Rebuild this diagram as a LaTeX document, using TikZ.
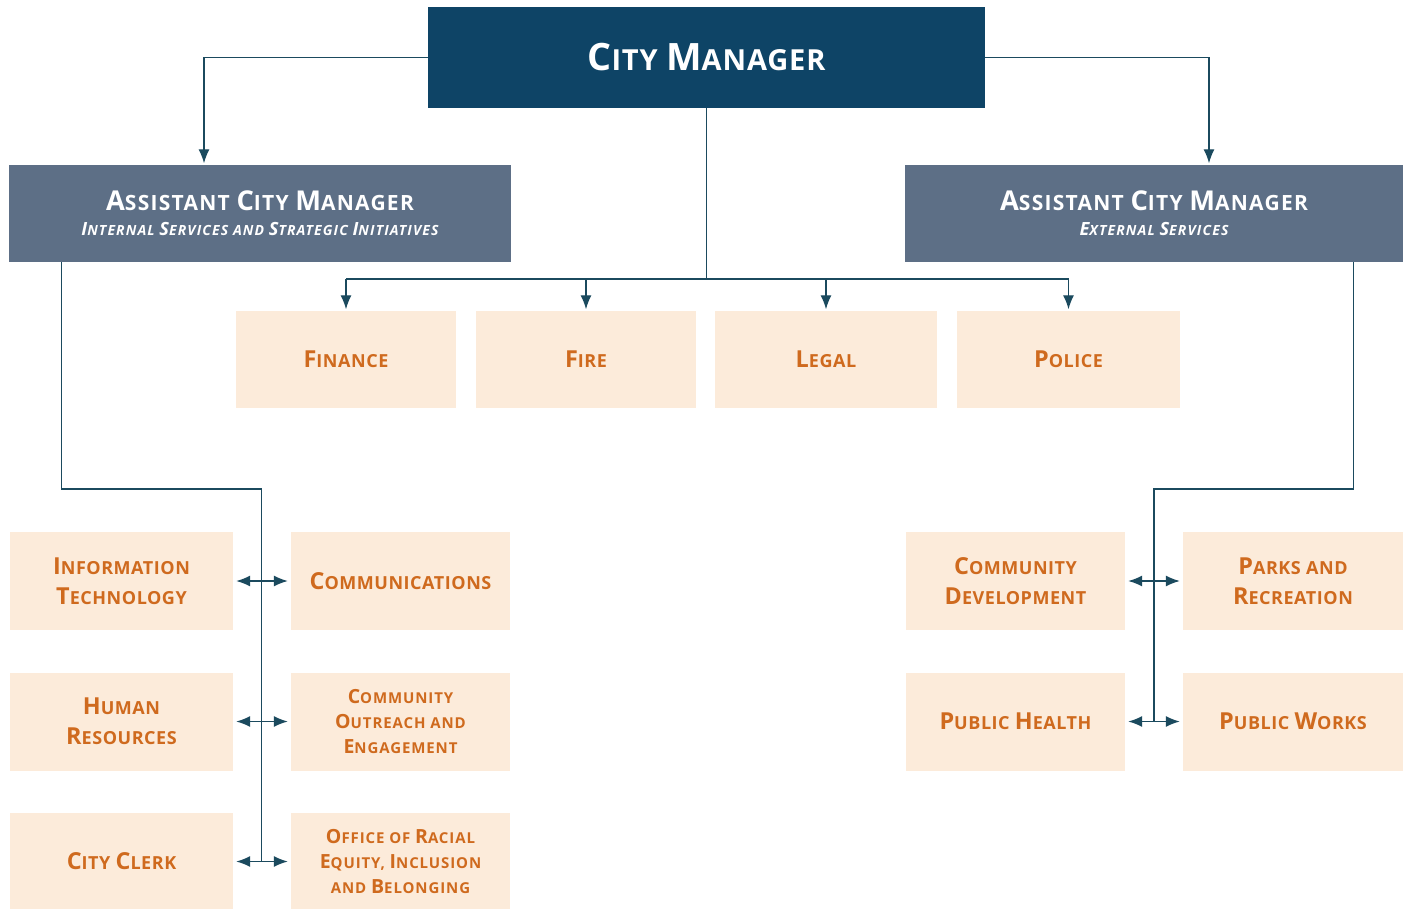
\documentclass[tikz,border=0pt]{standalone}
\usepackage{fontspec}
\setmainfont{Open Sans}
\usetikzlibrary{arrows.meta}
\definecolor{navy}{HTML}{0E4466}
\definecolor{slate}{HTML}{5D6F86}
\definecolor{peach}{HTML}{FCEBDA}
\definecolor{ortext}{HTML}{CF6A1E}
\definecolor{lnk}{HTML}{1B4A5E}
\newcommand\K[1]{\scalebox{1.3}{#1}}
\tikzset{
  cmbox/.style={fill=navy, text=white, minimum width=557pt, minimum height=101pt, inner sep=0pt,
    font=\fontsize{29}{33}\bfseries\addfontfeatures{LetterSpace=3}},
  acmbox/.style={fill=slate, text=white, minimum width=502pt, minimum height=97pt, inner sep=0pt,
    align=center, font=\fontsize{21}{23}\bfseries\addfontfeatures{LetterSpace=6}},
  dept/.style={fill=peach, text=ortext, minimum width=221pt, minimum height=98pt, inner sep=0pt,
    align=center, font=\fontsize{18}{30}\bfseries\addfontfeatures{LetterSpace=3}},
  dept3/.style={dept, font=\fontsize{15}{25}\bfseries\addfontfeatures{LetterSpace=6}},
  link/.style={draw=lnk, line width=1.3pt},
  arr/.style={link, -{Latex[length=14pt,width=11pt]}, shorten >=1.5pt},
  arrr/.style={link, {Latex[length=14pt,width=11pt]}-{Latex[length=14pt,width=11pt]}, shorten >=3pt, shorten <=3pt},
}
\begin{document}
\begin{tikzpicture}[x=1pt,y=-1pt]
\useasboundingbox (0,0) rectangle (1412,909);
\node[cmbox] (cm) at (706.5,57.5) {\K{C}ITY \K{M}ANAGER};
\node[acmbox] (acml) at (260,213.5) {\K{A}SSISTANT \K{C}ITY \K{M}ANAGER\\[2pt]
  {\fontsize{14}{16}\selectfont\itshape\addfontfeatures{LetterSpace=8}\K{I}NTERNAL \K{S}ERVICES AND \K{S}TRATEGIC \K{I}NITIATIVES}};
\node[acmbox, minimum width=498pt] (acmr) at (1154,213.5) {\K{A}SSISTANT \K{C}ITY \K{M}ANAGER\\[2pt]
  {\fontsize{14}{16}\selectfont\itshape\addfontfeatures{LetterSpace=8}\K{E}XTERNAL \K{S}ERVICES}};
% central departments
\node[dept, minimum width=220pt, minimum height=97pt] (fin) at (346,359.5) {\K{F}INANCE};
\node[dept, minimum width=220pt, minimum height=97pt] (fire) at (586,359.5) {\K{F}IRE};
\node[dept, minimum width=222pt, minimum height=97pt] (leg) at (826,359.5) {\K{L}EGAL};
\node[dept, minimum width=223pt, minimum height=97pt] (pol) at (1068.5,359.5) {\K{P}OLICE};
% left column
\node[dept, minimum width=223pt] (it) at (121.5,581) {\K{I}NFORMATION\\\K{T}ECHNOLOGY};
\node[dept, minimum width=219pt] (com) at (400.5,581) {\K{C}OMMUNICATIONS};
\node[dept, minimum width=223pt] (hr) at (121.5,721.5) {\K{H}UMAN\\\K{R}ESOURCES};
\node[dept3, minimum width=219pt] (coe) at (400.5,721.5) {\K{C}OMMUNITY\\\K{O}UTREACH AND\\\K{E}NGAGEMENT};
\node[dept, minimum width=223pt] (cc) at (121.5,861.5) {\K{C}ITY \K{C}LERK};
\node[dept3, minimum width=219pt] (ore) at (400.5,861.5) {\K{O}FFICE OF \K{R}ACIAL\\\K{E}QUITY, \K{I}NCLUSION\\AND \K{B}ELONGING};
% right column
\node[dept, minimum width=219pt] (cd) at (1015.5,581) {\K{C}OMMUNITY\\\K{D}EVELOPMENT};
\node[dept, minimum width=220pt] (pr) at (1293,581) {\K{P}ARKS AND\\\K{R}ECREATION};
\node[dept, minimum width=219pt] (ph) at (1015.5,721.5) {\K{P}UBLIC \K{H}EALTH};
\node[dept, minimum width=220pt] (pw) at (1293,721.5) {\K{P}UBLIC \K{W}ORKS};
% connectors from City Manager
\draw[arr] (cm.west) -| ([xshift=-56pt]acml.north);
\draw[arr] (cm.east) -| ([xshift=55pt]acmr.north);
\coordinate (bus) at (706.5,279);
\draw[link] (cm.south) -- (bus);
\draw[link] (bus -| fin.north) -- (bus -| pol.north);
\foreach \d in {fin,fire,leg,pol} \draw[arr] (bus -| \d.north) -- (\d.north);
% left trunk
\coordinate (lt) at (261.5,489);
\draw[link] ([xshift=53pt]acml.south west) |- (lt) -- (lt |- cc.east);
\draw[arrr] (it.east) -- (com.west);
\draw[arrr] (hr.east) -- (coe.west);
\draw[arrr] (cc.east) -- (ore.west);
% right trunk
\coordinate (rt) at (1154,489);
\draw[link] ([xshift=-50pt]acmr.south east) |- (rt) -- (rt |- ph.east);
\draw[arrr] (cd.east) -- (pr.west);
\draw[arrr] (ph.east) -- (pw.west);
\end{tikzpicture}
\end{document}
